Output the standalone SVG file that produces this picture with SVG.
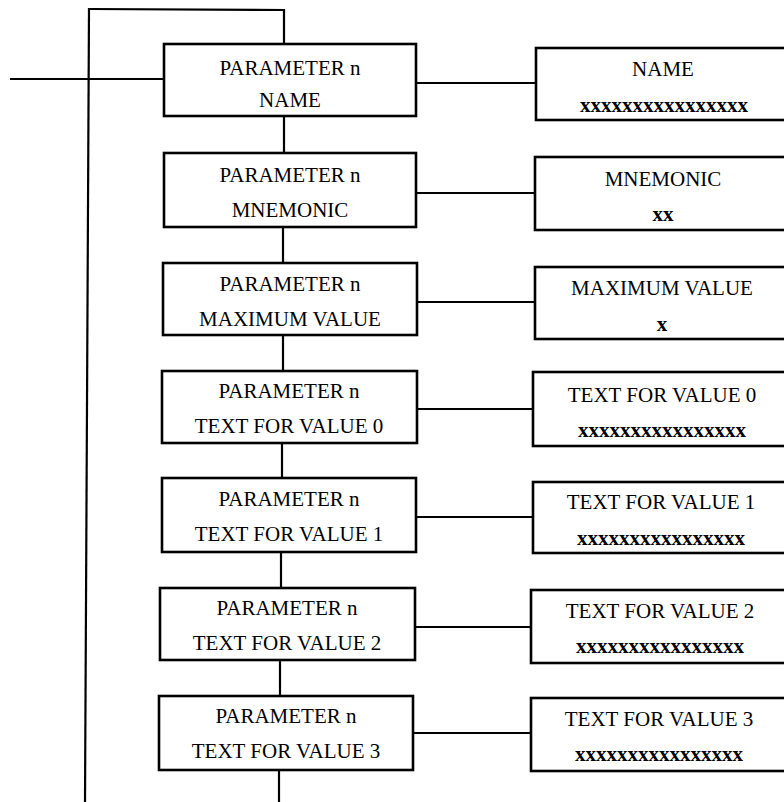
<svg xmlns="http://www.w3.org/2000/svg" width="784" height="802" viewBox="0 0 784 802">
<style>
.box{fill:#fff;stroke:#000;stroke-width:2.6}
.ln{fill:none;stroke:#000;stroke-width:2.2}
text{font-family:"Liberation Serif","Times New Roman",serif;font-size:21px;fill:#000;text-anchor:middle}
.xs{font-weight:bold}
</style>
<rect width="784" height="802" fill="#fff"/>
<g id="connectors">
<line class="ln" x1="89" y1="8" x2="85" y2="802"/>
<polyline class="ln" points="89,9 284,10 284,44"/>
<line class="ln" x1="10" y1="79" x2="164" y2="79"/>
<line class="ln" x1="284" y1="116" x2="284" y2="153"/>
<line class="ln" x1="283" y1="227" x2="283" y2="263"/>
<line class="ln" x1="283" y1="335" x2="283" y2="371"/>
<line class="ln" x1="282" y1="443" x2="282" y2="478"/>
<line class="ln" x1="281" y1="552" x2="281" y2="588"/>
<line class="ln" x1="280" y1="660" x2="280" y2="696"/>
<line class="ln" x1="279" y1="770" x2="279" y2="802"/>
<line class="ln" x1="416" y1="83" x2="536" y2="83"/>
<line class="ln" x1="416" y1="193" x2="535" y2="193"/>
<line class="ln" x1="417" y1="302" x2="535" y2="302"/>
<line class="ln" x1="417" y1="409" x2="533" y2="409"/>
<line class="ln" x1="416" y1="517" x2="533" y2="517"/>
<line class="ln" x1="415" y1="627" x2="531" y2="627"/>
<line class="ln" x1="413" y1="733" x2="531" y2="733"/>
</g>
<g id="p-name">
<rect class="box" x="164" y="44" width="252" height="72"/>
<text x="290" y="75">PARAMETER n</text>
<text x="290" y="107">NAME</text>
</g>
<g id="p-mnemonic">
<rect class="box" x="164" y="153" width="252" height="74"/>
<text x="290" y="182">PARAMETER n</text>
<text x="290" y="217">MNEMONIC</text>
</g>
<g id="p-max">
<rect class="box" x="163" y="263" width="254" height="72"/>
<text x="290" y="291">PARAMETER n</text>
<text x="290" y="326">MAXIMUM VALUE</text>
</g>
<g id="p-v0">
<rect class="box" x="162" y="371" width="255" height="72"/>
<text x="289" y="398">PARAMETER n</text>
<text x="289" y="433">TEXT FOR VALUE 0</text>
</g>
<g id="p-v1">
<rect class="box" x="162" y="478" width="254" height="74"/>
<text x="289" y="506">PARAMETER n</text>
<text x="289" y="541">TEXT FOR VALUE 1</text>
</g>
<g id="p-v2">
<rect class="box" x="160" y="588" width="255" height="72"/>
<text x="287" y="615">PARAMETER n</text>
<text x="287" y="650">TEXT FOR VALUE 2</text>
</g>
<g id="p-v3">
<rect class="box" x="159" y="696" width="254" height="74"/>
<text x="286" y="723">PARAMETER n</text>
<text x="286" y="758">TEXT FOR VALUE 3</text>
</g>
<g id="v-name">
<rect class="box" x="536" y="48" width="256" height="72"/>
<text x="663" y="76">NAME</text>
<text class="xs" x="664" y="112">xxxxxxxxxxxxxxxx</text>
</g>
<g id="v-mnemonic">
<rect class="box" x="535" y="157" width="256" height="73"/>
<text x="663" y="186">MNEMONIC</text>
<text class="xs" x="663" y="221">xx</text>
</g>
<g id="v-max">
<rect class="box" x="535" y="267" width="256" height="72"/>
<text x="662" y="295">MAXIMUM VALUE</text>
<text class="xs" x="662" y="331">x</text>
</g>
<g id="v-v0">
<rect class="box" x="533" y="372" width="256" height="74"/>
<text x="662" y="402">TEXT FOR VALUE 0</text>
<text class="xs" x="662" y="437">xxxxxxxxxxxxxxxx</text>
</g>
<g id="v-v1">
<rect class="box" x="533" y="482" width="256" height="71"/>
<text x="661" y="509">TEXT FOR VALUE 1</text>
<text class="xs" x="661" y="545">xxxxxxxxxxxxxxxx</text>
</g>
<g id="v-v2">
<rect class="box" x="531" y="590" width="256" height="73"/>
<text x="660" y="618">TEXT FOR VALUE 2</text>
<text class="xs" x="660" y="653">xxxxxxxxxxxxxxxx</text>
</g>
<g id="v-v3">
<rect class="box" x="531" y="698" width="256" height="73"/>
<text x="659" y="726">TEXT FOR VALUE 3</text>
<text class="xs" x="659" y="761">xxxxxxxxxxxxxxxx</text>
</g>
</svg>
